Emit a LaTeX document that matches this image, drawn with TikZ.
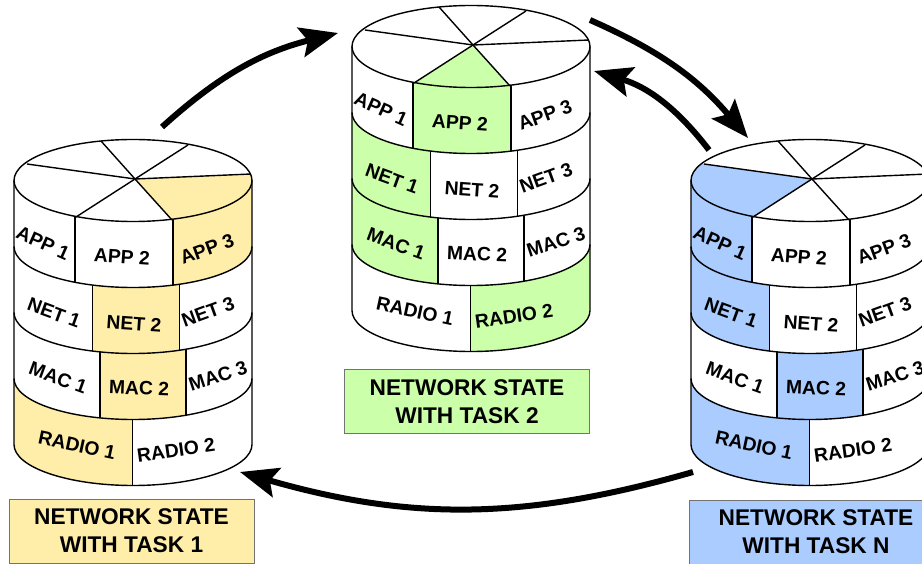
\documentclass[tikz,border=0pt]{standalone}
\usepackage{fontspec}
\setmainfont{Liberation Sans}
\usetikzlibrary{arrows.meta,positioning,calc}

\definecolor{taskone}{HTML}{FFEEAA}
\definecolor{tasktwo}{HTML}{CCFFAA}
\definecolor{taskn}{HTML}{AACCFF}

\tikzset{
  cell/.style={font=\bfseries\fontsize{19.3}{20}\selectfont,inner sep=0pt},
  statebox/.style={draw=black!55,line width=1pt,minimum width=245pt,minimum height=64pt,inner sep=0pt,
    align=center,font=\bfseries\fontsize{22.7}{28}\selectfont,execute at begin node=\rule{0pt}{22pt}},
  rim/.style={line width=1.4pt},
  taskarrow/.style={-{Stealth[length=38pt,width=30pt,inset=7pt]},line width=6pt}
}

% one tinted cell of a layer: top of layer, left, right, colour
\newcommand{\tintcell}[4]{
  \begin{scope}
    \clip (14,#1) arc[start angle=180,end angle=0,x radius=119,y radius=41]
      -- (252,#1+66) arc[start angle=0,end angle=180,x radius=119,y radius=41] -- cycle;
    \fill[#4] (#2,#1-10) rectangle (#3,#1+120);
  \end{scope}
}
% divider between two cells of a layer
\newcommand{\celldiv}[2]{
  \draw[rim] (#2,{#1+41*sqrt(1-((#2-133)/119)^2)}) -- ++(0,66);
}

\begin{document}
\begin{tikzpicture}[x=1pt,y=-1pt]
  \useasboundingbox (0,0) rectangle (922,564);

  % tints, task 1
  \begin{scope}
    \begin{scope}
      \clip (133,180.5) ellipse [x radius=119,y radius=41];
      \fill[taskone] (135,179) -- (172,220) -- (172,280) -- (280,280) -- (280,174) -- (251,174) -- cycle;
    \end{scope}
    \tintcell{180.5}{173}{252}{taskone}
    \tintcell{246.5}{92.5}{179.5}{taskone}
    \tintcell{312.5}{100}{186}{taskone}
    \tintcell{378.5}{14}{132.5}{taskone}
  \end{scope}

  % tints, task 2
  \begin{scope}[shift={(338,-134)}]
    \begin{scope}
      \clip (133,180.5) ellipse [x radius=119,y radius=41];
      \fill[tasktwo] (135,179) -- (76,217) -- (76,280) -- (172,280) -- (172,220) -- cycle;
    \end{scope}
    \tintcell{180.5}{75}{173}{tasktwo}
    \tintcell{246.5}{14}{92.5}{tasktwo}
    \tintcell{312.5}{14}{100}{tasktwo}
    \tintcell{378.5}{132.5}{252}{tasktwo}
  \end{scope}

  % tints, task n
  \begin{scope}[shift={(677,0)}]
    \begin{scope}
      \clip (133,180.5) ellipse [x radius=119,y radius=41];
      \fill[taskn] (135,179) -- (27,164) -- (-20,164) -- (-20,280) -- (76,280) -- (76,217) -- cycle;
    \end{scope}
    \tintcell{180.5}{14}{75}{taskn}
    \tintcell{246.5}{14}{92.5}{taskn}
    \tintcell{312.5}{100}{186}{taskn}
    \tintcell{378.5}{14}{132.5}{taskn}
  \end{scope}

  % the three stacks
  \foreach \n/\dx/\dy in {one/0/0,two/338/-134,last/677/0}{
    \begin{scope}[shift={(\dx,\dy)}]
      \draw[rim] (133,180.5) ellipse [x radius=119,y radius=41];
      \draw[rim] (14,180.5) -- (14,444.5) arc[start angle=180,end angle=0,x radius=119,y radius=41] -- (252,180.5);
      \foreach \ly in {246.5,312.5,378.5}
        \draw[rim] (14,\ly) arc[start angle=180,end angle=0,x radius=119,y radius=41];
      \foreach \px/\py in {27/164,101/141,188/145,251/174,172/220,76/217}
        \draw[rim] (135,179) -- (\px,\py);
      \celldiv{180.5}{75} \celldiv{180.5}{173}
      \celldiv{246.5}{92.5} \celldiv{246.5}{179.5}
      \celldiv{312.5}{100} \celldiv{312.5}{186}
      \celldiv{378.5}{132.5}
      \foreach \lbl/\txt/\lx/\ly/\rot in {
        appa/APP 1/43/243/-24, appb/APP 2/122/257/-4, appc/APP 3/207/249/20,
        neta/NET 1/54/313/-20, netb/NET 2/134/324/-4, netc/NET 3/208/312/20,
        maca/MAC 1/58/378/-20, macb/MAC 2/139/388/-2, macc/MAC 3/218/376/18,
        radioa/RADIO 1/77/445/-12, radiob/RADIO 2/176/450/8}
        \node[cell,rotate=\rot] (\lbl\n) at (\lx,\ly) {\txt};
    \end{scope}
  }

  \node[statebox,fill=taskone] (stateone) at (131.5,531) {NETWORK STATE\\WITH TASK 1};
  \node[statebox,fill=tasktwo] (statetwo) at (467,401.5) {NETWORK STATE\\WITH TASK 2};
  \node[statebox,fill=taskn,minimum width=254pt] (statelast) at (816,532) {NETWORK STATE\\WITH TASK N};

  \coordinate (a0) at (162,127);
  \coordinate (a1) at (338,33);
  \coordinate (b0) at (590,20);
  \coordinate (b1) at (748,138);
  \coordinate (c0) at (709,150);
  \coordinate (c1) at (594,71);
  \coordinate (d0) at (693,472);
  \coordinate (d1) at (240,472);

  \draw[taskarrow] (a0) to[bend left=14] (a1);
  \draw[taskarrow] (b0) to[bend left=13] (b1);
  \draw[taskarrow] (c0) to[bend right=18] (c1);
  \draw[taskarrow] (d0) to[bend left=16] (d1);
\end{tikzpicture}
\end{document}
